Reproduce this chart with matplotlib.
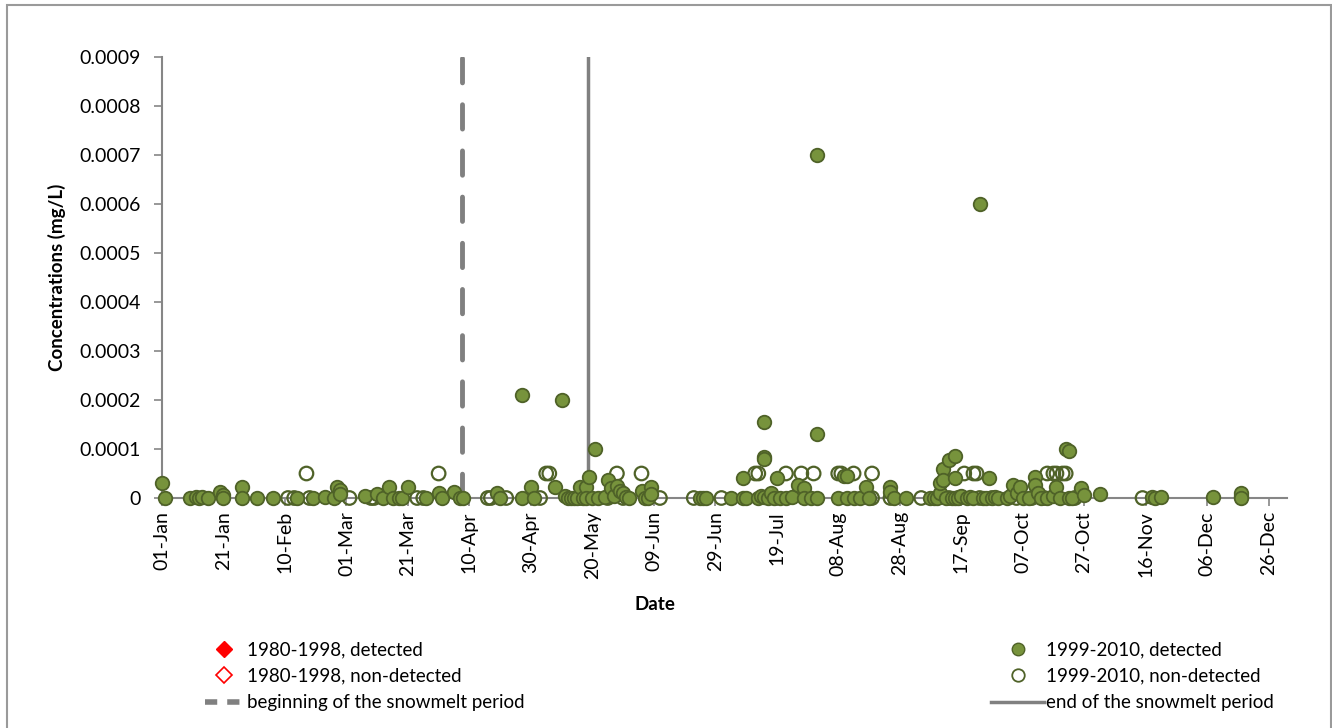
import numpy as np
import matplotlib.pyplot as plt
from matplotlib.lines import Line2D
from matplotlib.patches import Rectangle

plt.rcParams['font.family'] = ['Lato', 'DejaVu Sans']

# day of year (0 = 01-Jan), concentration in 1e-5 mg/L
det_day = [0, 1, 9, 11, 12, 13, 15, 19, 20, 20, 26, 26, 31, 36, 44, 49, 53, 56, 57, 58, 58,
           66, 70, 72, 74, 75, 77, 78, 80, 86, 90, 91, 95, 97, 98, 109, 110, 117, 117, 120, 121,
           128, 130, 131, 132, 133, 134, 135, 136, 137, 138, 138, 139, 140, 141, 142, 144,
           145, 146, 147, 148, 149, 150, 151, 152, 156, 157, 158, 159, 159,
           175, 176, 177, 185, 189, 189, 190, 194, 195, 196, 196, 196, 196, 197, 198, 199, 200,
           201, 203, 205, 207, 209, 209, 211, 213, 213, 213,
           220, 222, 223, 223, 225, 227, 229, 230, 237, 237, 238, 242,
           250, 251, 252, 253, 253, 254, 254, 255, 256, 257, 258, 258, 258, 259, 260, 262, 263,
           264, 266, 267, 268, 269, 270, 271, 272,
           275, 276, 277, 278, 279, 280, 282, 284, 284, 285, 286, 288, 290, 291, 292, 294, 295,
           295, 296, 299, 300, 305, 322, 323, 325, 342, 351, 351, 351]
det_val = [3.1, 0, 0, 0.3, 0, 0.2, 0, 1.3, 0.6, 0, 2.3, 0, 0, 0, 0, 0, 0.3, 0, 2.3, 1.6, 0.8,
           0.5, 0.8, 0, 2.3, 0, 0, 0, 2.3, 0, 1, 0, 1.3, 0, 0, 1, 0, 21, 0, 2.3, 0,
           2.3, 20, 0.5, 0, 0, 0, 0, 2.3, 0, 2.3, 0, 4.3, 0, 10, 0, 0.3,
           3.7, 2, 0.5, 2.5, 1.5, 1, 0.3, 0, 1.5, 0, 0, 2.3, 0.8,
           0, 0, 0, 0, 0, 4.1, 0, 0, 0.5, 15.5, 8.4, 8, 0.3, 0, 1, 0, 4.1,
           0, 0, 0.3, 2.7, 2, 0, 0, 13, 70, 0,
           0, 4.5, 4.5, 0, 0, 0, 2.3, 0, 2.3, 1.3, 0, 0,
           0, 0, 0, 1, 3, 6, 3.7, 0, 7.8, 0, 8.6, 4, 0, 0, 0.5, 0, 0.3,
           0, 60, 0, 0, 4.1, 0, 0.3, 0,
           0, 0.5, 2.7, 1, 2.3, 0, 0, 4.3, 2.7, 1, 0, 0, 0.5, 2.3, 0, 10, 9.5,
           0, 0, 2, 0.6, 0.8, 0.3, 0, 0.3, 0.2, 0.5, 1, 0]

nd_day = [41, 43, 47, 48, 61, 68, 69, 83, 85, 90, 106, 107, 112, 123, 125, 126, 136, 145,
          148, 150, 156, 162, 173, 182, 193, 194, 203, 208, 212, 220, 221, 225, 231, 231,
          237, 247, 252, 256, 259, 261, 264, 265, 266, 270, 278, 283, 287, 288, 290, 291,
          293, 294, 297, 319]
nd_val = [0, 0, 5, 0, 0, 0, 0, 0, 0, 5, 0, 0, 0, 0, 5, 5, 0, 0,
          5, 0, 5, 0, 0, 0, 5, 5, 5, 5, 5, 5, 5, 5, 5, 0,
          0, 0, 0, 0, 0, 5, 5, 5, 0, 0, 0, 0, 0, 5, 5, 5,
          5, 5, 0, 0]

snow_begin = 97.5
snow_end = 138.5

tick_days = list(range(0, 361, 20))
tick_labels = ['01-Jan', '21-Jan', '10-Feb', '01-Mar', '21-Mar', '10-Apr', '30-Apr', '20-May',
               '09-Jun', '29-Jun', '19-Jul', '08-Aug', '28-Aug', '17-Sep', '07-Oct', '27-Oct',
               '16-Nov', '06-Dec', '26-Dec']

green = '#77933C'
dark = '#4F6228'
grey = '#868686'

fig = plt.figure(figsize=(13.32, 7.28), dpi=100)
ax = fig.add_axes([162 / 1332, 1 - 498 / 728, (1287 - 162) / 1332, (498 - 57) / 728])

ax.plot([snow_begin, snow_begin], [0, 0.0009], color='#808080', lw=3.5,
        dashes=(5, 4.5), dash_capstyle='round', zorder=2)
ax.plot([snow_end, snow_end], [0, 0.0009], color='#808080', lw=2.5, zorder=2)

ax.scatter(np.array(nd_day), np.array(nd_val) * 1e-5, s=95, facecolors='none',
           edgecolors=dark, linewidths=1.6, zorder=3, clip_on=False)
ax.scatter(np.array(det_day), np.array(det_val) * 1e-5, s=95, facecolors=green,
           edgecolors=dark, linewidths=1.3, zorder=4, clip_on=False)

ax.set_xlim(0, 366)
ax.set_ylim(0, 0.0009)
ax.set_yticks(np.arange(0, 0.00091, 0.0001))
ax.set_yticklabels(['0'] + ['%.4f' % v for v in np.arange(0.0001, 0.00091, 0.0001)])
ax.set_xticks(tick_days)
ax.set_xticklabels(tick_labels, rotation=90)
ax.tick_params(labelsize=14, color=grey, length=6, width=1.2)
ax.tick_params(axis='y', pad=9)
for s in ['top', 'right']:
    ax.spines[s].set_visible(False)
for s in ['left', 'bottom']:
    ax.spines[s].set_color(grey)
    ax.spines[s].set_linewidth(1.5)

ax.set_ylabel('Concentrations (mg/L)', fontsize=13.5, fontweight='bold', labelpad=10)
fig.text(655 / 1332, 1 - 604 / 728, 'Date', fontsize=13.5, fontweight='bold',
         ha='center', va='center')

h_left = [
    Line2D([], [], ls='none', marker='D', ms=8, color='red'),
    Line2D([], [], ls='none', marker='D', ms=8, mfc='none', mec='red', mew=1.2),
    Line2D([], [], color='#808080', lw=4, dashes=(2.2, 1.8)),
]
l_left = ['1980-1998, detected', '1980-1998, non-detected', 'beginning of the snowmelt period']
h_right = [
    Line2D([], [], ls='none', marker='o', ms=9, mfc=green, mec=dark),
    Line2D([], [], ls='none', marker='o', ms=9, mfc='none', mec=dark, mew=1.3),
    Line2D([], [], color='#808080', lw=2.5),
]
l_right = ['1999-2010, detected', '1999-2010, non-detected', 'end of the snowmelt period']

leg1 = fig.legend(h_left, l_left, loc='upper left', bbox_to_anchor=(196 / 1332, 1 - 632 / 728),
                  frameon=False, fontsize=13.5, handlelength=2.0, handletextpad=0.2,
                  labelspacing=0.5, borderpad=0)
leg2 = fig.legend(h_right, l_right, loc='upper left', bbox_to_anchor=(982 / 1332, 1 - 632 / 728),
                  frameon=False, fontsize=13.5, handlelength=2.8, handletextpad=0.1,
                  labelspacing=0.5, borderpad=0)

fig.patches.append(Rectangle((7 / 1332, -0.01), (1331 - 7) / 1332, 1 - 5 / 728 + 0.01,
                             transform=fig.transFigure, fill=False, ec='#9a9a9a', lw=1.5))

fig.savefig('out.png', dpi=100, facecolor='white')
